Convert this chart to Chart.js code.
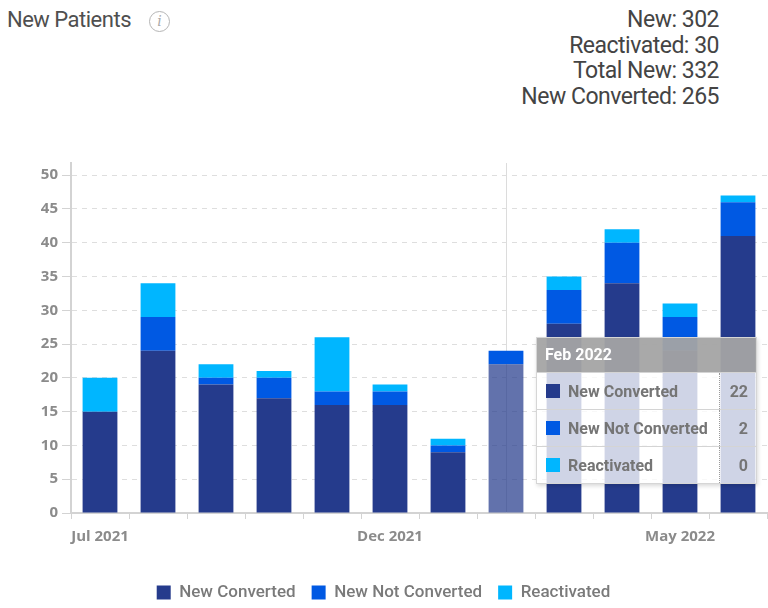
<!DOCTYPE html>
<html>
<head>
<meta charset="utf-8">
<script src="https://cdn.jsdelivr.net/npm/chart.js@4.4.1/dist/chart.umd.min.js"></script>
<style>
  body { margin: 0; width: 768px; height: 608px; background: #fff; font-family: Roboto, sans-serif; position: relative; overflow: hidden; }
  .title { position: absolute; left: 7px; top: 7px; font-size: 22px; letter-spacing: -0.5px; color: #4f4f4f; }
  .info { position: absolute; left: 149px; top: 11px; width: 19px; height: 19px; border: 1.5px solid #b5b5b5; border-radius: 50%;
          font: italic 14px "DejaVu Serif", serif; color: #aaa; text-align: center; line-height: 19px; }
  .totals { position: absolute; right: 49px; top: 7px; text-align: right; font-size: 23px; letter-spacing: -0.5px; color: #444; line-height: 25.5px; }
  #wrap { position: absolute; left: 0; top: 150px; width: 768px; height: 461px; }
  #tip { position: absolute; display: none; width: 219px; background: rgba(255,255,255,0.78); border: 1px solid #d6d6d6;
         box-shadow: 1px 2px 4px rgba(0,0,0,0.15); font-family: Roboto, sans-serif; pointer-events: none; }
  #tip .th { background: rgba(140,140,140,0.75); color: #fff; font-weight: 700; font-size: 16px; height: 34px; line-height: 34px; padding-left: 8px; }
  #tip table { border-collapse: collapse; width: 100%; }
  #tip td { height: 36px; padding: 0; border-top: 1px solid #d4d4d4; font-weight: 700; font-size: 16px; color: #757575; }
  #tip td.k { padding-left: 9px; }
  #tip td.v { text-align: right; padding-right: 8px; border-left: 1px dotted #999; width: 28px; }
  #tip .sw { display: inline-block; width: 14px; height: 14px; margin-right: 8px; vertical-align: -1px; }
</style>
</head>
<body>
<div class="title">New Patients</div>
<div class="info">i</div>
<div class="totals">New: 302<br>Reactivated: 30<br>Total New: 332<br>New Converted: 265</div>
<div id="wrap"><canvas id="chart"></canvas><div id="tip"></div></div>
<script>
const months = ['Jul 2021', 'Aug 2021', 'Sep 2021', 'Oct 2021', 'Nov 2021', 'Dec 2021',
                'Jan 2022', 'Feb 2022', 'Mar 2022', 'Apr 2022', 'May 2022', 'Jun 2022'];
const newConverted    = [15, 24, 19, 17, 16, 16, 9, 22, 28, 34, 24, 41];
const newNotConverted = [0, 5, 1, 3, 2, 2, 1, 2, 5, 6, 5, 5];
const reactivated     = [5, 5, 2, 1, 8, 1, 1, 0, 2, 2, 2, 1];
const yTicks = [0, 5, 10, 15, 20, 25, 30, 35, 40, 45, 50];
const hoverMonth = 'Feb 2022';

const tickFont = { family: '"Open Sans", sans-serif', size: 15, weight: 'bold' };

function externalTip(ctx) {
  const { chart, tooltip } = ctx;
  const el = document.getElementById('tip');
  if (tooltip.opacity === 0) { el.style.display = 'none'; return; }
  const pts = tooltip.dataPoints;
  let html = '<div class="th">' + pts[0].label + '</div><table>';
  pts.forEach(p => {
    html += '<tr><td class="k"><span class="sw" style="background:' + p.dataset.backgroundColor + '"></span>' +
            p.dataset.label + '</td><td class="v">' + p.raw + '</td></tr>';
  });
  el.innerHTML = html + '</table>';
  el.style.display = 'block';
  el.style.left = (tooltip.caretX + 30) + 'px';
  el.style.top = (tooltip.caretY - 18) + 'px';
}

// vertical hover line behind the bars
const crosshair = {
  id: 'crosshair',
  beforeDatasetsDraw(chart) {
    const act = chart.getActiveElements();
    if (!act.length) return;
    const x = act[0].element.x, a = chart.chartArea, c = chart.ctx;
    c.save();
    c.strokeStyle = '#dcdcdc';
    c.lineWidth = 1;
    c.beginPath();
    c.moveTo(Math.round(x) + 0.5, a.top);
    c.lineTo(Math.round(x) + 0.5, a.bottom);
    c.stroke();
    c.restore();
  }
};

const chart = new Chart(document.getElementById('chart'), {
  type: 'bar',
  data: {
    labels: months,
    datasets: [
      { label: 'New Converted', data: newConverted, backgroundColor: '#253b8c', hoverBackgroundColor: 'rgba(37,59,140,0.72)' },
      { label: 'New Not Converted', data: newNotConverted, backgroundColor: '#0059e3', hoverBackgroundColor: '#0059e3' },
      { label: 'Reactivated', data: reactivated, backgroundColor: '#00b6ff', hoverBackgroundColor: '#00b6ff' }
    ]
  },
  options: {
    responsive: true,
    maintainAspectRatio: false,
    animation: false,
    events: [],
    layout: { padding: { top: 13, right: 1, left: 0, bottom: 0 } },
    datasets: { bar: { categoryPercentage: 1, barPercentage: 0.6 } },
    interaction: { mode: 'index', intersect: false },
    scales: {
      x: {
        stacked: true,
        afterFit: s => { s.height = 55; },
        grid: { display: true, drawOnChartArea: false, drawTicks: true, tickLength: 6, color: '#d3d3d3', offset: true },
        border: { color: '#d3d3d3', width: 2 },
        ticks: {
          autoSkip: false, maxRotation: 0, padding: 9, color: '#8b8b8b', font: tickFont,
          callback: (v, i) => (i % 5 === 0 ? months[i] : '')
        }
      },
      y: {
        stacked: true,
        min: 0,
        max: 51.8,
        afterFit: s => { s.width = 71; },
        afterBuildTicks: s => { s.ticks = yTicks.map(v => ({ value: v })); },
        grid: { color: '#dedede', tickLength: 9, tickColor: '#d3d3d3', tickBorderDash: [] },
        border: { color: '#d3d3d3', width: 2, dash: [5, 5] },
        ticks: { padding: 4, color: '#8b8b8b', font: tickFont }
      }
    },
    plugins: {
      legend: {
        position: 'bottom',
        labels: {
          boxWidth: 14, boxHeight: 14, padding: 16, color: '#7a7a7a',
          font: { family: 'Roboto, sans-serif', size: 17, weight: '500' }
        }
      },
      tooltip: { enabled: false, external: externalTip }
    }
  },
  plugins: [crosshair]
});

const idx = months.indexOf(hoverMonth);
const active = [0, 1, 2].map(d => ({ datasetIndex: d, index: idx }));
chart.setActiveElements(active);
const el = chart.getDatasetMeta(0).data[idx];
chart.tooltip.setActiveElements(active, { x: el.x, y: el.y });
chart.update();
</script>
</body>
</html>
